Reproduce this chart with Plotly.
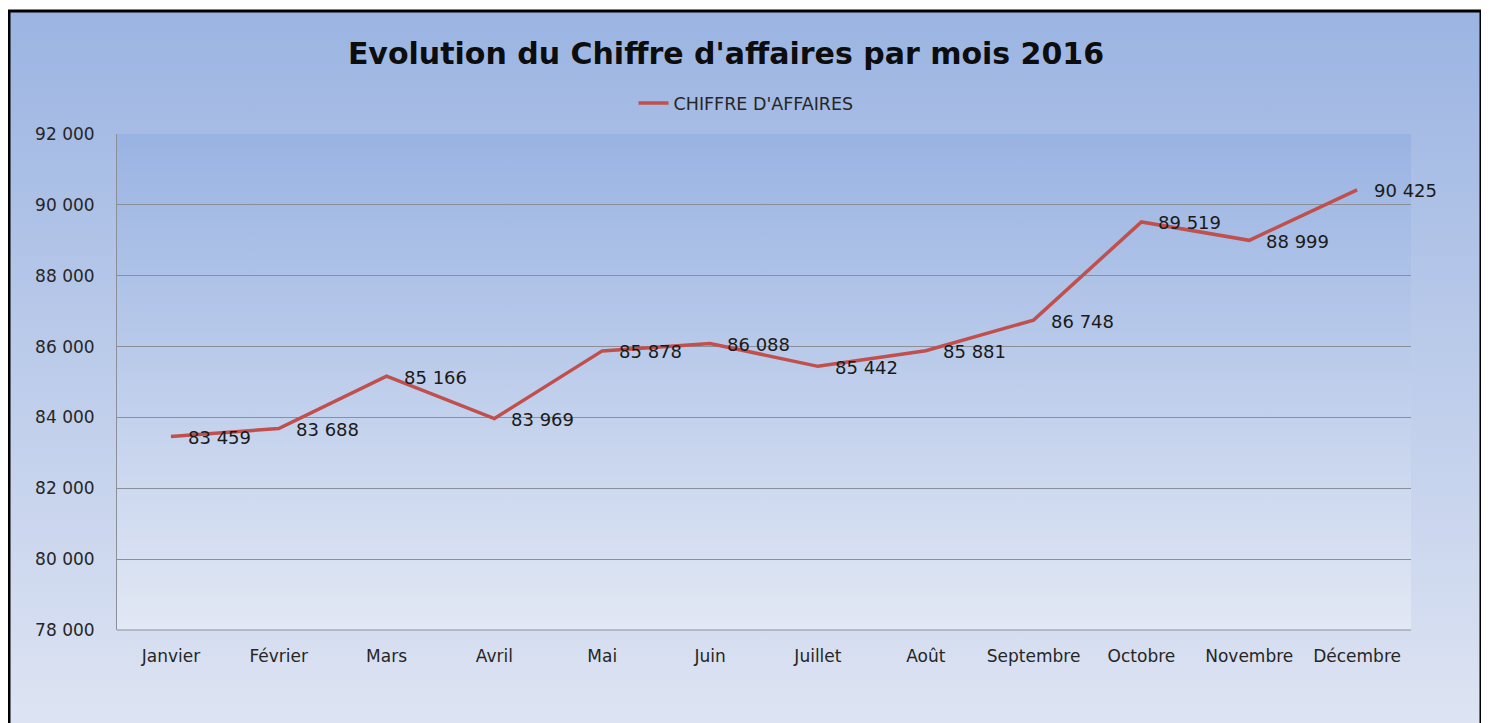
import base64
import plotly.graph_objects as go

months = ["Janvier", "Février", "Mars", "Avril", "Mai", "Juin", "Juillet",
          "Août", "Septembre", "Octobre", "Novembre", "Décembre"]
ca = [83459, 83688, 85166, 83969, 85878, 86088, 85442, 85881, 86748, 89519, 88999, 90425]
y_ticks = [78000, 80000, 82000, 84000, 86000, 88000, 90000, 92000]

OFF = 8  # page body margin
W, H = 1489 - OFF, 723 - OFF
L, R, T, B = 117 - OFF, 1411 - OFF, 134 - OFF, 630 - OFF
FONT = "DejaVu Sans"


def grad_uri(top, bottom):
    svg = ('<svg xmlns="http://www.w3.org/2000/svg" width="100" height="100" '
           'viewBox="0 0 100 100" preserveAspectRatio="none">'
           '<defs><linearGradient id="g" x1="0" y1="0" x2="0" y2="1">'
           f'<stop offset="0" stop-color="{top}"/><stop offset="1" stop-color="{bottom}"/>'
           '</linearGradient></defs><rect width="100" height="100" fill="url(#g)"/></svg>')
    return "data:image/svg+xml;base64," + base64.b64encode(svg.encode()).decode()


def px_x(p):
    return (p - OFF - L) / (R - L)


def px_y(p):
    return (B - (p - OFF)) / (B - T)


fig = go.Figure()
fig.add_trace(go.Scatter(
    x=months, y=ca, mode="lines", name="CHIFFRE D'AFFAIRES",
    line=dict(color="#c0504d", width=3.5), hoverinfo="x+y"))

annotations = []
for m, v in zip(months, ca):
    annotations.append(dict(
        x=m, y=v, xref="x", yref="y", text=f"{v:,}".replace(",", " "),
        showarrow=False, xanchor="left", yanchor="middle", xshift=15, yshift=-1,
        font=dict(family=FONT, size=18, color="#1a1a1a")))

fx0, fx1 = px_x(9), px_x(1481)
fy0, fy1 = px_y(740), px_y(11)

fig.update_layout(
    width=W, height=H,
    margin=dict(l=L, r=W - R, t=T, b=H - B),
    paper_bgcolor="white", plot_bgcolor="rgba(0,0,0,0)",
    separators=", ",
    title=dict(text="<b>Evolution du Chiffre d'affaires par mois 2016</b>",
               x=(726 - OFF) / W, xanchor="center",
               y=1 - (53 - OFF) / H, yanchor="middle",
               font=dict(family=FONT, size=30, color="#0d0d0d")),
    showlegend=True,
    legend=dict(orientation="h", x=px_x(746), xanchor="center", y=px_y(103), yanchor="middle",
                font=dict(family=FONT, size=17.5, color="#262626"), bgcolor="rgba(0,0,0,0)"),
    xaxis=dict(range=[-0.5, 11.5], showgrid=False, showline=False, ticks="", zeroline=False,
               tickfont=dict(family=FONT, size=17, color="#262626"), ticklabelstandoff=14),
    yaxis=dict(range=[78000, 92000], tickvals=y_ticks, tickformat=",d",
               showgrid=True, gridcolor="#8a8f99", gridwidth=1, zeroline=False,
               showline=True, linecolor="#8a8f99", linewidth=1, ticks="",
               tickfont=dict(family=FONT, size=17, color="#262626"), ticklabelstandoff=18),
    annotations=annotations,
    images=[
        dict(source=grad_uri("#9bb4e2", "#dfe5f3"), xref="paper", yref="paper",
             x=fx0, y=fy1, sizex=fx1 - fx0, sizey=fy1 - fy0, xanchor="left", yanchor="top",
             sizing="stretch", layer="below"),
        dict(source=grad_uri("#99b3e2", "#e2e8f4"), xref="paper", yref="paper",
             x=0, y=1, sizex=1, sizey=1, xanchor="left", yanchor="top",
             sizing="stretch", layer="below"),
    ],
    shapes=[
        dict(type="rect", xref="paper", yref="paper", x0=fx0, x1=fx1, y0=fy0, y1=fy1,
             line=dict(color="black", width=3), fillcolor="rgba(0,0,0,0)", layer="above"),
        dict(type="line", xref="paper", yref="paper", x0=0, x1=1, y0=0, y1=0,
             line=dict(color="#8a8f99", width=1), layer="below"),
    ],
)

fig.write_html("out.html")
